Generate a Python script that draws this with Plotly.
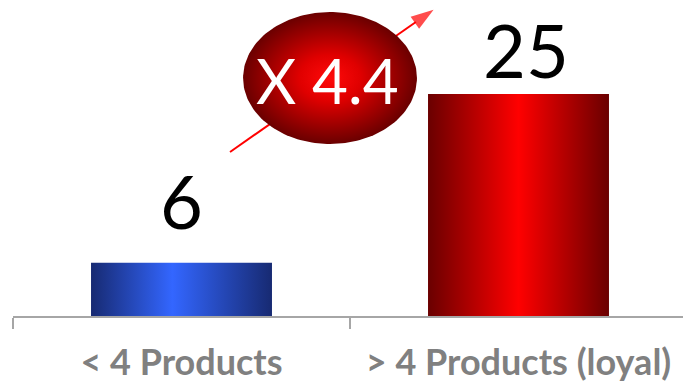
import numpy as np
import plotly.graph_objects as go

# Data
categories = ["< 4 Products", "> 4 Products (loyal)"]
values = [6, 25]
value_labels = ["6", "25"]
ratio_label = "X 4.4"

# Canvas and axis geometry
W, H = 683, 382
ML, MB = 13, 66
PX_PER_CAT = 337
PX_PER_UNIT = 8.88
x_range = [-0.5, -0.5 + (W - ML) / PX_PER_CAT]
y_range = [0, (H - MB) / PX_PER_UNIT]
bar_w = 0.537
label_xshift = [0, 7]
label_yshift = [62, 45]

bar_scales = [
    [[0, "#172a72"], [0.45, "#3366ff"], [1, "#172a72"]],
    [[0, "#6a0000"], [0.5, "#ff0000"], [1, "#6a0000"]],
]

fig = go.Figure()

# Growth arrow (drawn first so the badge sits on top of it)
tail = (0.144, 18.47)
head = (0.748, 34.5)
fig.add_trace(go.Scatter(
    x=[tail[0], head[0]], y=[tail[1], head[1]],
    mode="lines+markers",
    line=dict(color="#ff0000", width=2),
    marker=dict(symbol="arrow", size=[0, 24], color="#ff0000", angleref="previous",
                line=dict(width=0)),
    cliponaxis=False, hoverinfo="skip", showlegend=False,
))

# Bars as gradient-filled rectangles
for i, v in enumerate(values):
    x0, x1 = i - bar_w / 2, i + bar_w / 2
    fig.add_trace(go.Scatter(
        x=[x0, x1, x1, x0, x0], y=[0, 0, v, v, 0],
        mode="lines", line=dict(width=0),
        fill="toself",
        fillgradient=dict(type="horizontal", colorscale=bar_scales[i]),
        hoverinfo="skip", showlegend=False,
    ))
    fig.add_annotation(
        x=i, y=v, text=value_labels[i], showarrow=False,
        yanchor="middle", yshift=label_yshift[i], xshift=label_xshift[i],
        font=dict(family="Lato", size=74, color="#000000"),
    )

# Ratio badge: ellipse with radial gradient
cx, cy, rx, ry = 0.4407, 26.8, 0.258, 7.43
t = np.linspace(0, 2 * np.pi, 181)
fig.add_trace(go.Scatter(
    x=cx + rx * np.cos(t), y=cy + ry * np.sin(t),
    mode="lines", line=dict(width=0),
    fill="toself",
    fillgradient=dict(type="radial", colorscale=[[0, "#ff0a0a"], [0.35, "#e00000"], [1, "#6a0000"]]),
    hoverinfo="skip", showlegend=False,
))
fig.add_annotation(
    x=cx, y=cy, text=ratio_label, showarrow=False,
    xshift=-3, yshift=-2,
    font=dict(family="Lato", size=62, color="#ffffff"),
)

fig.update_layout(
    width=W, height=H,
    margin=dict(l=ML, r=0, t=0, b=MB),
    paper_bgcolor="white", plot_bgcolor="white",
    showlegend=False,
    xaxis=dict(
        range=x_range, showgrid=False, zeroline=False,
        showline=True, linecolor="#a6a6a6", linewidth=1.5,
        tickvals=[0, 1], ticktext=categories, ticks="",
        tickfont=dict(family="Lato", size=36, color="#808080", weight="bold"),
        ticklabelstandoff=14,
        minor=dict(tickvals=[-0.5, 0.5], ticks="outside", ticklen=11,
                   tickcolor="#a6a6a6", tickwidth=1.5),
        fixedrange=True,
    ),
    yaxis=dict(range=y_range, visible=False, fixedrange=True),
)

fig.write_html("out.html")
